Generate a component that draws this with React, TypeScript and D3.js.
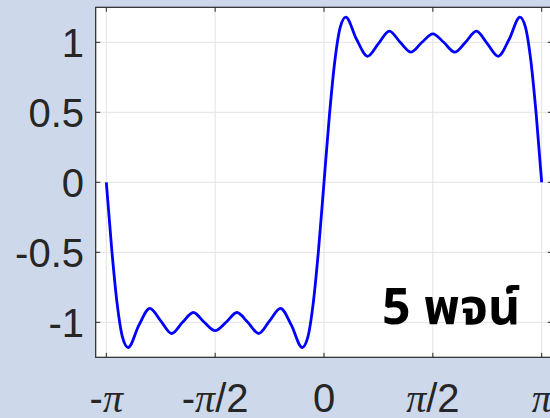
import React from "react";
import * as d3 from "d3";

// x positions in units of π/20
const xSteps = [
  -20, -19.5, -19, -18.5, -18, -17, -16, -15, -14, -13, -12, -11, -10, -9, -8, -7, -6, -5, -4, -3, -2, -1.5, -1, -0.5,
  0, 0.5, 1, 1.5, 2, 3, 4, 5, 6, 7, 8, 9, 10, 11, 12, 13, 14, 15, 16, 17, 18, 18.5, 19, 19.5, 20,
];
const yValues = [
  0, -0.48, -0.87, -1.11, -1.18, -1.02, -0.9, -0.99, -1.08, -1.0, -0.93, -1.0, -1.06, -1.0, -0.93, -1.0, -1.08, -0.99, -0.9, -1.02, -1.18, -1.11, -0.87, -0.48,
  0, 0.48, 0.87, 1.11, 1.18, 1.02, 0.9, 0.99, 1.08, 1.0, 0.93, 1.0, 1.06, 1.0, 0.93, 1.0, 1.08, 0.99, 0.9, 1.02, 1.18, 1.11, 0.87, 0.48, 0,
];
const xTickValues = [-Math.PI, -Math.PI / 2, 0, Math.PI / 2, Math.PI];
const xTickLabels = [
  ["-", "π", ""],
  ["-", "π", "/2"],
  ["0", "", ""],
  ["", "π", "/2"],
  ["", "π", ""],
];
const yTickValues = [-1, -0.5, 0, 0.5, 1];
const yTickLabels = ["-1", "-0.5", "0", "0.5", "1"];
const annotation = "5 พจน์";

const W = 550;
const H = 418;
const L = 95.7;
const T = 7.3;
const B = 357.3;
const pad = 0.153;
const pxPerUnit = 435.4 / (2 * Math.PI);
const R = L + (2 * Math.PI + 2 * pad) * pxPerUnit;

export default function App() {
  const x = d3.scaleLinear().domain([-Math.PI - pad, Math.PI + pad]).range([L, R]);
  const y = d3.scaleLinear().domain([-1.25, 1.25]).range([B, T]);
  const pts = xSteps.map((m, i) => [(m * Math.PI) / 20, yValues[i]] as [number, number]);
  const path = d3
    .line<[number, number]>()
    .x((d) => x(d[0]))
    .y((d) => y(d[1]))
    .curve(d3.curveMonotoneX)(pts) as string;
  const tick = 4.5;
  const font = "'Liberation Sans', Arial, Helvetica, sans-serif";
  return (
    <div style={{ position: "fixed", left: 0, top: 0 }}>
      <svg width={W} height={H} style={{ display: "block" }}>
        <rect x={0} y={0} width={W} height={H} fill="#cdd9eb" />
        <rect x={L} y={T} width={R - L} height={B - T} fill="#ffffff" />
        {xTickValues.map((v, i) => (
          <line key={"gx" + i} x1={x(v)} x2={x(v)} y1={T} y2={B} stroke="#e3e3e3" strokeWidth={1} />
        ))}
        {yTickValues.map((v, i) => (
          <line key={"gy" + i} x1={L} x2={R} y1={y(v)} y2={y(v)} stroke="#e3e3e3" strokeWidth={1} />
        ))}
        <path d={path} fill="none" stroke="#0000ff" strokeWidth={2.8} strokeLinejoin="round" />
        {xTickValues.map((v, i) => (
          <g key={"tx" + i}>
            <line x1={x(v)} x2={x(v)} y1={B} y2={B - tick} stroke="#262626" strokeWidth={1} />
            <line x1={x(v)} x2={x(v)} y1={T} y2={T + tick} stroke="#262626" strokeWidth={1} />
          </g>
        ))}
        {yTickValues.map((v, i) => (
          <g key={"ty" + i}>
            <line x1={L} x2={L + tick} y1={y(v)} y2={y(v)} stroke="#262626" strokeWidth={1} />
            <line x1={R} x2={R - tick} y1={y(v)} y2={y(v)} stroke="#262626" strokeWidth={1} />
          </g>
        ))}
        <rect x={L} y={T} width={R - L} height={B - T} fill="none" stroke="#262626" strokeWidth={1.2} />
        {yTickValues.map((v, i) => (
          <text
            key={"ly" + i}
            x={84}
            y={y(v) + 15}
            textAnchor="end"
            fontFamily={font}
            fontSize={40}
            fill="#262626"
          >
            {yTickLabels[i]}
          </text>
        ))}
        {xTickValues.map((v, i) => (
          <text key={"lx" + i} x={x(v)} y={411.7} textAnchor="middle" fontFamily={font} fontSize={40} fill="#262626">
            {xTickLabels[i][0]}
            {xTickLabels[i][1] ? (
              <tspan fontFamily="'Liberation Serif', 'DejaVu Serif', serif" fontStyle="italic">
                {xTickLabels[i][1]}
              </tspan>
            ) : null}
            {xTickLabels[i][2]}
          </text>
        ))}
        <text
          x={382}
          y={324}
          fontFamily="'Noto Sans Thai', Tahoma, 'Leelawadee UI', 'DejaVu Sans', sans-serif"
          fontWeight="bold"
          fontSize={50}
          fill="#000000"
        >
          {annotation}
        </text>
      </svg>
    </div>
  );
}
